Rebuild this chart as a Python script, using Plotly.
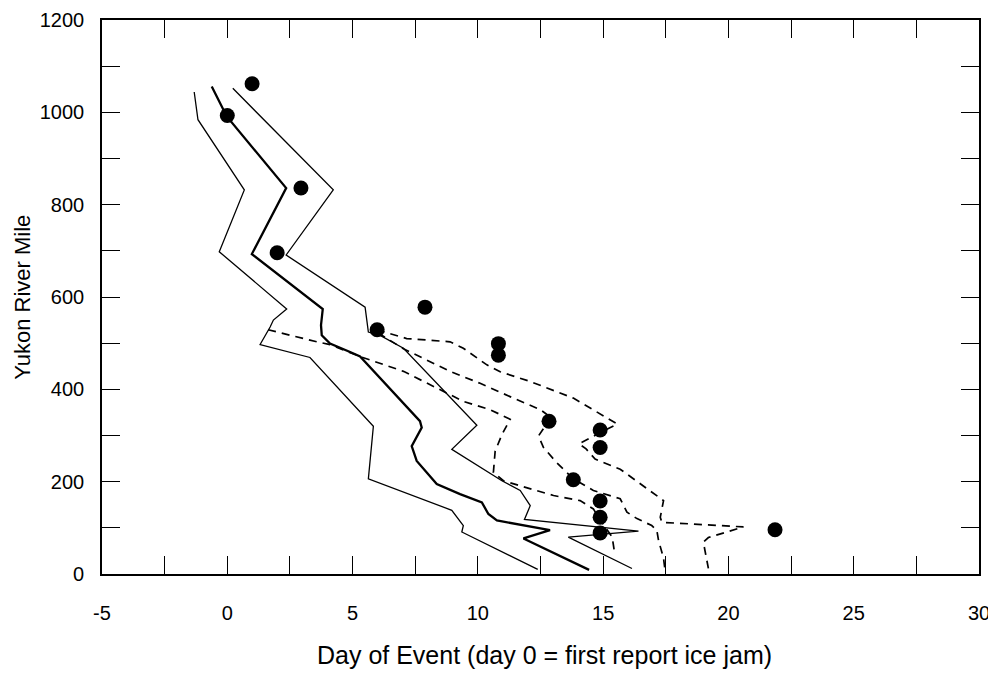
import plotly.graph_objects as go

# ---- data ----
# Solid envelope lines
lineA_x = [-1.32, -1.17, 0.68, -0.32, 2.37, 1.84, 1.71, 1.31, 3.30, 5.83, 5.63, 8.96, 9.42, 9.36, 12.39]
lineA_y = [1044, 984, 832, 698, 574, 550, 535, 497, 469, 320, 206, 138, 105, 91, 10]

lineB_x = [-0.62, -0.02, 2.35, 0.98, 3.81, 3.74, 3.77, 4.10, 4.90, 5.30, 7.69, 7.76, 7.36, 7.56, 8.36,
           9.29, 10.16, 10.42, 10.76, 11.42, 12.88, 11.82, 14.44]
lineB_y = [1056, 991, 836, 693, 574, 539, 517, 499, 481, 471, 331, 317, 277, 245, 195,
           173, 155, 130, 116, 109, 95, 77, 9]

lineC_x = [0.22, 4.23, 2.35, 5.43, 5.50, 5.63, 6.10, 7.03, 9.96, 8.96, 10.96, 11.69, 12.09, 11.86,
           16.41, 13.61, 16.15]
lineC_y = [1052, 832, 691, 582, 578, 524, 517, 489, 322, 270, 202, 181, 148, 118,
           93, 80, 12]

# Dashed envelope lines
dashD1_x = [1.63, 2.51, 3.57, 4.10, 5.30, 7.03, 8.36, 9.42, 10.49, 11.29, 10.96, 10.69, 10.62,
            11.02, 11.69, 13.02, 14.08, 14.61, 14.81, 15.36, 15.44]
dashD1_y = [529, 517, 503, 497, 471, 439, 403, 374, 356, 335, 302, 266, 220,
            202, 191, 170, 159, 141, 123, 80, 52]

dashD2_x = [6.02, 7.03, 8.89, 10.09, 11.42, 12.49, 13.02, 12.68, 12.42, 12.62, 13.15, 13.81,
            14.61, 15.68, 15.95, 16.35, 16.94, 17.14, 17.21, 17.41, 17.48]
dashD2_y = [522, 488, 439, 413, 381, 356, 335, 320, 299, 274, 241, 206,
            181, 163, 134, 120, 105, 95, 73, 34, 4]

dashD3_x = [5.97, 7.16, 8.89, 9.42, 10.36, 10.89, 12.09, 13.81, 15.56, 14.04, 14.32, 14.68,
            15.68, 16.48, 17.41, 17.28, 17.34, 20.60, 19.20, 19.00, 19.20]
dashD3_y = [529, 510, 503, 489, 453, 438, 417, 381, 325, 282, 271, 249,
            227, 195, 159, 123, 112, 102, 79, 69, 12]

# Observed ice-jam reports
obs_day = [0.99, 0.0, 2.94, 1.99, 7.89, 5.98, 10.82, 10.82, 12.84, 14.88, 14.88, 13.81,
           14.88, 14.88, 14.88, 21.86]
obs_mile = [1062, 993, 836, 696, 578, 529, 499, 474, 331, 312, 274, 204,
            158, 123, 89, 96]

x_tick_vals = [-5, -2.5, 0, 2.5, 5, 7.5, 10, 12.5, 15, 17.5, 20, 22.5, 25, 27.5, 30]
x_tick_text = ["-5", "", "0", "", "5", "", "10", "", "15", "", "20", "", "25", "", "30"]
y_tick_vals = list(range(0, 1201, 100))
y_tick_text = [str(v) if v % 200 == 0 else "" for v in y_tick_vals]

x_title = "Day of Event (day 0 = first report ice jam)"
y_title = "Yukon River Mile"

FONT = "Liberation Sans, Arial, Helvetica, sans-serif"

fig = go.Figure()

def solid(x, y, w):
    fig.add_trace(go.Scatter(x=x, y=y, mode="lines",
                             line=dict(color="black", width=w), showlegend=False,
                             hoverinfo="skip"))

def dashed(x, y):
    fig.add_trace(go.Scatter(x=x, y=y, mode="lines",
                             line=dict(color="black", width=1.7, dash="8px,6px"),
                             showlegend=False, hoverinfo="skip"))

solid(lineA_x, lineA_y, 1.3)
solid(lineB_x, lineB_y, 2.3)
solid(lineC_x, lineC_y, 1.3)
dashed(dashD1_x, dashD1_y)
dashed(dashD2_x, dashD2_y)
dashed(dashD3_x, dashD3_y)

fig.add_trace(go.Scatter(x=obs_day, y=obs_mile, mode="markers",
                         marker=dict(color="black", size=15, symbol="circle"),
                         showlegend=False))

axis_common = dict(showline=True, linecolor="black", linewidth=1.6, mirror="ticks",
                   ticks="inside", ticklen=18, tickwidth=1.4, tickcolor="black",
                   showgrid=False, zeroline=False, automargin=False,
                   ticklabeloverflow="allow",
                   tickfont=dict(family=FONT, size=20, color="black"))

fig.update_xaxes(range=[-5, 30], tickmode="array", tickvals=x_tick_vals,
                 ticktext=x_tick_text, ticklabelstandoff=20, **axis_common)
fig.update_yaxes(range=[0, 1200], tickmode="array", tickvals=y_tick_vals,
                 ticktext=y_tick_text, ticklabelstandoff=12, **axis_common)

# The page body adds an 8 px offset; the figure is sized so the plot frame
# lands at about x 102..979, y 20..574 of the window.
fig.update_layout(
    width=988, height=681,
    margin=dict(l=94, r=17, t=12, b=115, autoexpand=False),
    plot_bgcolor="white", paper_bgcolor="white",
    font=dict(family=FONT, color="black"),
    annotations=[
        dict(text=x_title, xref="paper", yref="paper", x=0.505, y=-0.146,
             xanchor="center", yanchor="middle", showarrow=False,
             font=dict(family=FONT, size=25, color="black")),
        dict(text=y_title, xref="paper", yref="paper", x=-0.0915, y=0.5,
             xanchor="center", yanchor="middle", showarrow=False, textangle=-90,
             font=dict(family=FONT, size=22, color="black")),
    ],
)

fig.write_html("out.html")
